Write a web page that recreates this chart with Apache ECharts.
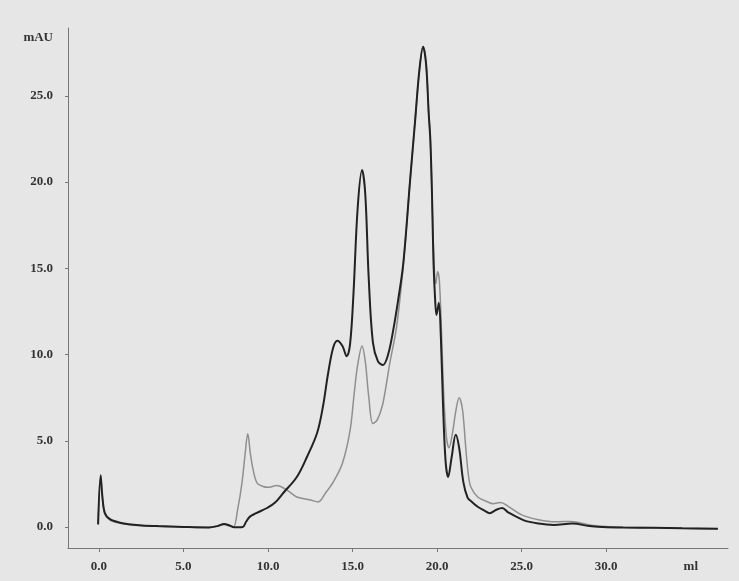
<!DOCTYPE html>
<html>
<head>
<meta charset="utf-8">
<script src="https://cdn.jsdelivr.net/npm/echarts@6/dist/echarts.min.js"></script>
<style>
html,body{margin:0;padding:0;background:#e6e6e6;}
#c{width:739px;height:581px;}
</style>
</head>
<body>
<div id="c"></div>
<script>
// Dark trace (ml, mAU)
const darkX = [-0.05,0.1,0.2,0.35,0.65,1.25,2.4,3.5,5.0,6.5,7.0,7.4,7.7,8.0,8.5,8.7,8.93,9.3,9.94,10.4,10.9,11.7,12.3,12.9,13.25,13.55,13.85,14.1,14.4,14.65,14.85,15.05,15.3,15.56,15.75,15.95,16.2,16.5,16.8,17.1,17.4,17.7,18.0,18.4,18.7,18.95,19.17,19.35,19.5,19.6,19.7,19.78,19.88,19.96,20.1,20.22,20.35,20.5,20.65,20.85,21.1,21.3,21.55,21.8,22.0,22.4,22.8,23.1,23.5,23.85,24.2,25.1,26.0,26.9,28.0,29.0,29.8,31.0,32.8,34.5,36.6];
const darkY = [0.15,3.0,1.8,0.8,0.45,0.25,0.1,0.05,0.0,-0.03,0.05,0.17,0.1,-0.02,0.0,0.3,0.6,0.8,1.1,1.4,1.97,2.9,4.06,5.45,7.0,8.9,10.4,10.8,10.5,9.9,10.6,13.5,18.5,20.7,19.3,14.5,10.7,9.6,9.4,10.0,11.4,13.2,15.3,20.1,23.6,26.5,27.85,26.8,24.0,22.4,19.1,15.5,13.2,12.3,13.0,11.0,7.0,3.8,2.9,4.0,5.35,4.6,2.6,1.7,1.5,1.17,0.95,0.8,1.0,1.1,0.85,0.4,0.2,0.12,0.2,0.05,0.0,-0.03,-0.05,-0.08,-0.1];
// Gray trace (ml, mAU)
const grayX = [-0.05,0.1,0.2,0.35,0.65,1.25,2.4,3.5,5.0,6.5,7.0,7.4,7.7,7.95,8.2,8.45,8.64,8.8,8.95,9.1,9.35,9.7,10.0,10.5,11.1,11.7,12.5,12.96,13.4,13.85,14.4,14.85,15.1,15.3,15.56,15.75,15.95,16.2,16.45,16.75,17.0,17.2,17.6,18.0,18.4,18.7,18.95,19.17,19.35,19.5,19.6,19.7,19.8,19.92,20.03,20.13,20.25,20.4,20.55,20.7,20.9,21.1,21.3,21.5,21.7,21.85,22.0,22.4,23.0,23.3,23.75,24.2,25.0,26.0,27.0,27.9,29.0,30.0,31.0,32.8,34.5,36.6];
const grayY = [0.15,2.9,1.7,0.75,0.4,0.22,0.08,0.03,0.0,-0.03,0.05,0.15,0.05,0.0,1.0,2.5,4.2,5.4,4.3,3.4,2.55,2.35,2.3,2.4,2.15,1.74,1.57,1.45,1.97,2.6,3.7,5.6,7.8,9.4,10.5,9.6,7.6,6.0,6.2,7.0,8.3,9.5,11.6,15.2,20.1,23.6,26.5,27.85,26.8,24.0,22.4,19.1,15.8,14.1,14.8,14.3,11.5,7.5,5.2,4.6,5.4,6.7,7.5,6.8,4.5,3.0,2.3,1.74,1.45,1.35,1.42,1.2,0.7,0.42,0.3,0.32,0.12,0.02,-0.02,-0.05,-0.08,-0.1];
// Tick labels
const xTicks = [0,5,10,15,20,25,30];
const xLabels = [0,5,10,15,20,25,30,35];
const yTicks = [0,5,10,15,20,25];
const yLabels = [0,5,10,15,20,25,28.4];
const xUnit = 'ml';
const yUnit = 'mAU';

const zip = (xs, ys) => xs.map((x, i) => [x, ys[i]]);
const labelFont = {fontFamily:'Liberation Serif', fontWeight:'bold', fontSize:13, color:'#333'};

const chart = echarts.init(document.getElementById('c'), null, {renderer:'canvas'});
chart.setOption({
  backgroundColor:'#e6e6e6',
  animation:false,
  grid:{left:68, right:11, top:28, bottom:33},
  xAxis:{
    type:'value', min:-1.83, max:37.2,
    splitLine:{show:false},
    axisLine:{show:true, onZero:false, lineStyle:{color:'#777', width:1}},
    axisTick:{show:true, length:4, customValues:xTicks, lineStyle:{color:'#777'}},
    axisLabel:Object.assign({margin:12, customValues:xLabels,
      formatter:v => v === 35 ? xUnit : v.toFixed(1)}, labelFont)
  },
  yAxis:{
    type:'value', min:-1.22, max:28.94,
    splitLine:{show:false},
    axisLine:{show:true, onZero:false, lineStyle:{color:'#777', width:1}},
    axisTick:{show:true, length:3, customValues:yTicks, lineStyle:{color:'#777'}},
    axisLabel:Object.assign({margin:15, customValues:yLabels,
      formatter:v => v === 28.4 ? yUnit : v.toFixed(1)}, labelFont)
  },
  series:[
    {type:'line', data:zip(grayX, grayY), showSymbol:false, smooth:0.35,
     lineStyle:{color:'#8f8f8f', width:1.5}},
    {type:'line', data:zip(darkX, darkY), showSymbol:false, smooth:0.35,
     lineStyle:{color:'#222', width:2}}
  ]
});
</script>
</body>
</html>
